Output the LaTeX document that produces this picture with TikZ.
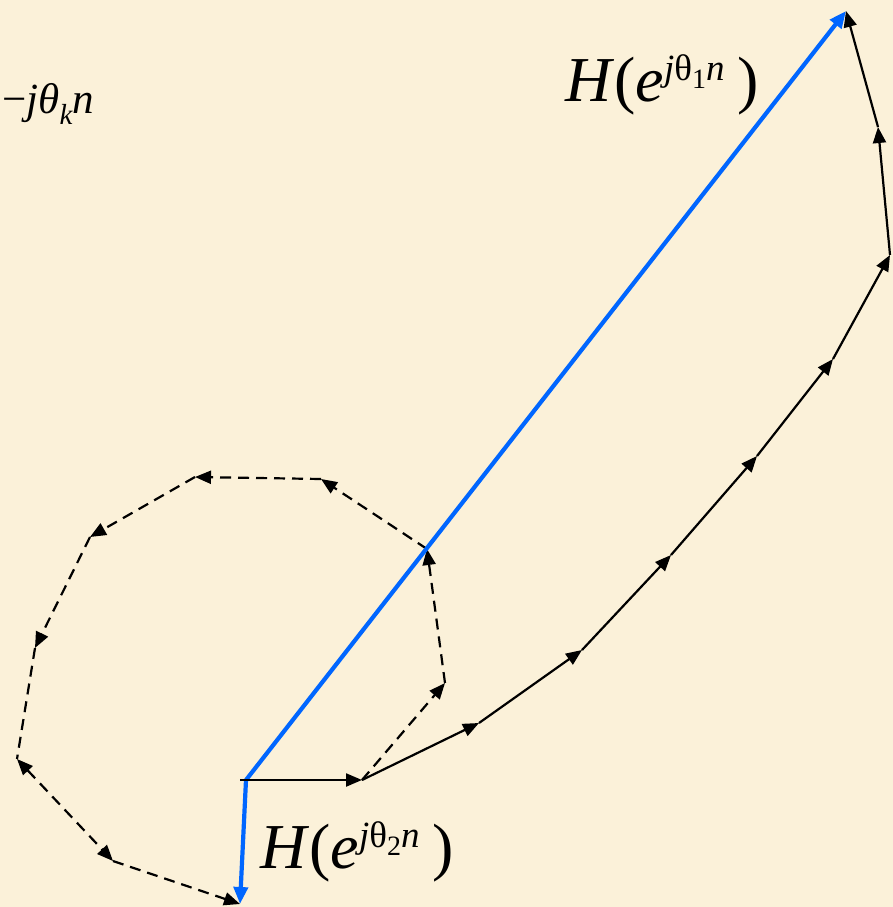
\documentclass[tikz,border=0pt]{standalone}
\usepackage{fontspec}
\setmainfont{Liberation Serif}
\usetikzlibrary{arrows.meta}

\definecolor{parchment}{RGB}{251,241,217}
\definecolor{vecblue}{RGB}{0,102,255}

% H(e^{j theta_i n}) label
\newcommand{\sumlabel}[1]{\fontsize{64}{64}\selectfont\textit{H}(\textit{e}\raisebox{21pt}{\fontsize{37}{37}\selectfont\textit{j}θ\raisebox{-8pt}{\fontsize{28}{28}\selectfont #1}\textit{n}}\hspace{13pt})}

\begin{document}
\begin{tikzpicture}[
  x=1pt, y=-1pt,
  vec/.style={-{Triangle[length=16pt,width=13pt]}, line width=2.2pt, black},
  dvec/.style={vec, dash pattern=on 11pt off 7pt},
  bvec/.style={-{Triangle[length=17pt,width=14pt]}, line width=4.2pt, vecblue},
  lbl/.style={anchor=base west, inner sep=0pt}]
  \fill[parchment] (0,0) rectangle (893,907);
  \useasboundingbox (0,0) rectangle (893,907);
  % origin and h[0]
  \coordinate (o) at (246,780);
  \coordinate (h0) at (240,780);
  \coordinate (s1) at (362,780);
  % partial sums for theta_1
  \coordinate (s2) at (479,723);
  \coordinate (s3) at (582,650);
  \coordinate (s4) at (671,555);
  \coordinate (s5) at (757,456);
  \coordinate (s6) at (833,359);
  \coordinate (s7) at (890,255);
  \coordinate (s8) at (878,127);
  \coordinate (s9) at (846,11);
  % partial sums for theta_2
  \coordinate (d1) at (445,683);
  \coordinate (d2) at (427,549);
  \coordinate (d3) at (321,479);
  \coordinate (d4) at (195,477);
  \coordinate (d5) at (90,537);
  \coordinate (d6) at (35,648);
  \coordinate (d7) at (17,759);
  \coordinate (d8) at (113,861);
  \coordinate (d9) at (240,904);
  \draw[dvec] (s1) -- (d1);
  \draw[dvec] (d1) -- (d2);
  \draw[dvec] (d2) -- (d3);
  \draw[dvec] (d3) -- (d4);
  \draw[dvec] (d4) -- (d5);
  \draw[dvec] (d5) -- (d6);
  \draw[dvec, -] (d6) -- (d7);
  \draw[dvec, {Triangle[length=16pt,width=13pt]}-{Triangle[length=16pt,width=13pt]}] (d7) -- (d8);
  \draw[dvec] (d8) -- (d9);
  \draw[bvec] (o) -- (s9);
  \draw[bvec] (o) -- (d9);
  \draw[vec] (h0) -- (s1);
  \draw[vec] (s1) -- (s2);
  \draw[vec] (s2) -- (s3);
  \draw[vec] (s3) -- (s4);
  \draw[vec] (s4) -- (s5);
  \draw[vec] (s5) -- (s6);
  \draw[vec] (s6) -- (s7);
  \draw[vec] (s7) -- (s8);
  \draw[vec] (s8) -- (s9);
  \node[lbl] (h1lbl) at (565,101) {\sumlabel{1}};
  \node[lbl] (h2lbl) at (260,868) {\sumlabel{2}};
  \node[lbl] (expo) at (2,113) {\fontsize{43}{43}\selectfont −\textit{jθ}\raisebox{-11pt}{\fontsize{29}{29}\selectfont\textit{k}}\textit{n}};
\end{tikzpicture}
\end{document}
